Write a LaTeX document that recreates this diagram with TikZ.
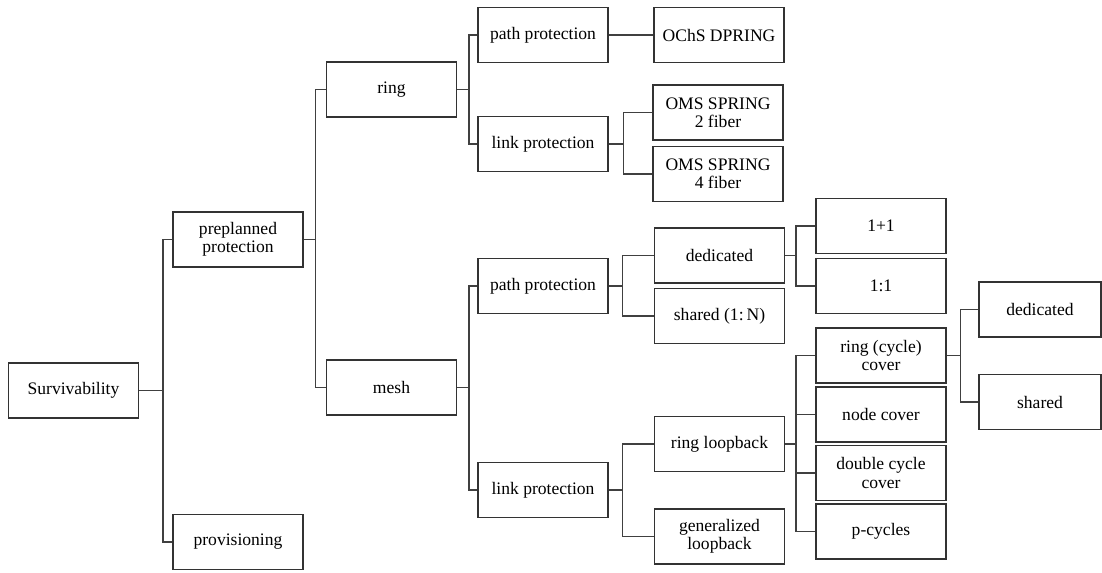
\documentclass[tikz,border=0pt]{standalone}
\usepackage{fontspec}
\setmainfont{Liberation Serif}
\tikzset{
  box/.style={draw=black!80, line width=0.7pt, minimum width=2.6cm, minimum height=1.1cm,
    align=center, inner sep=1pt, font=\fontsize{10}{10.5}\selectfont},
  wire/.style={draw=black!75, line width=0.7pt}
}
\begin{document}
\begin{tikzpicture}[x=0.02cm, y=-0.02cm]
    \useasboundingbox (0,0) rectangle (1102,572);

    % boxes, column by column
    \node[box] (surv) at (73.5,390.5) {Survivability};
    \node[box] (prep) at (238,239.5) {preplanned\\protection};
    \node[box] (prov) at (238,542) {provisioning};
    \node[box] (ring) at (391.5,89.5) {ring};
    \node[box] (mesh) at (391.5,387.5) {mesh};

    \foreach \n/\y/\t in {rpath/35/path protection, rlink/144/link protection,
                          mpath/286/path protection, mlink/490/link protection} {
      \node[box] (\n) at (543,\y) {\t};
    }

    \node[box] (ochs) at (719,35) {OChS DPRING};
    \node[box] (oms2) at (718,112.5) {OMS SPRING\\2 fiber};
    \node[box] (oms4) at (718,174) {OMS SPRING\\4 fiber};

    \foreach \n/\y/\t in {ded/255.5/dedicated, shr/316/{shared (1:\,N)},
                          rloop/444/ring loopback, gloop/536.5/{generalized\\loopback}} {
      \node[box] (\n) at (719.5,\y) {\t};
    }

    \foreach \n/\y/\t in {p11/226/1+1, p1to1/286/1:1, rcc/355.5/{ring (cycle)\\cover},
                          ncov/414.5/node cover, dcc/473/{double cycle\\cover}, pcyc/531.5/p-cycles} {
      \node[box] (\n) at (881,\y) {\t};
    }

    \node[box, minimum width=2.44cm] (gded) at (1040,309.5) {dedicated};
    \node[box, minimum width=2.44cm] (gshr) at (1040,402) {shared};

    % connectors
    \draw[wire] (rpath) -- (ochs);
    \foreach \p/\c/\d in {surv/prep/24, surv/prov/24, prep/ring/12, prep/mesh/12,
                          ring/rpath/12, ring/rlink/12, rlink/oms2/15, rlink/oms4/15,
                          mesh/mpath/12, mesh/mlink/12, mpath/ded/14, mpath/shr/14,
                          mlink/rloop/14, mlink/gloop/14, ded/p11/11, ded/p1to1/11,
                          rloop/rcc/11, rloop/ncov/11, rloop/dcc/11, rloop/pcyc/11,
                          rcc/gded/14, rcc/gshr/14} {
      \draw[wire] (\p.east) -- ++(\d,0) |- (\c.west);
    }
  \end{tikzpicture}
\end{document}
